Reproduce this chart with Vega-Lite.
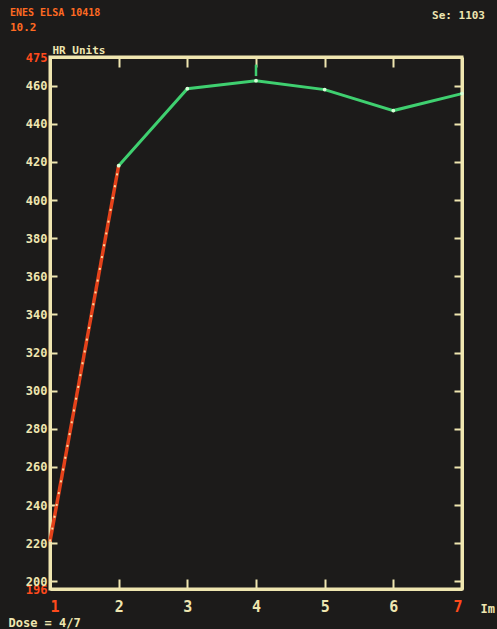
{
  "$schema": "https://vega.github.io/schema/vega-lite/v6.json",
  "width": 412,
  "height": 532,
  "autosize": {"type": "none"},
  "padding": {"left": 50, "top": 57, "right": 35, "bottom": 40},
  "background": "#1c1b1a",
  "title": {
    "text": "ENES ELSA 10418",
    "subtitle": "10.2",
    "anchor": "start",
    "frame": "group",
    "dx": -40,
    "dy": 48,
    "offset": 24,
    "font": "DejaVu Sans Mono",
    "fontSize": 10,
    "fontWeight": "bold",
    "color": "#ff6a22",
    "subtitleFont": "DejaVu Sans Mono",
    "subtitleFontSize": 11,
    "subtitleFontWeight": "bold",
    "subtitleColor": "#ff6a22",
    "subtitlePadding": 4
  },
  "config": {
    "view": {"stroke": "#efe6b0", "strokeWidth": 3},
    "axis": {
      "grid": false,
      "domainColor": "#efe6b0",
      "domainWidth": 3,
      "tickColor": "#efe6b0",
      "tickWidth": 2,
      "labelFont": "DejaVu Sans Mono",
      "labelFontWeight": "bold",
      "labelOverlap": false,
      "titleFont": "DejaVu Sans Mono",
      "titleFontWeight": "bold",
      "titleColor": "#efe6b0"
    }
  },
  "datasets": {
    "curve": [
      {"x": 1, "y": 221, "seg": "red"},
      {"x": 2, "y": 418, "seg": "red"},
      {"x": 2, "y": 418, "seg": "green"},
      {"x": 3, "y": 458.4, "seg": "green"},
      {"x": 4, "y": 462.6, "seg": "green"},
      {"x": 5, "y": 457.9, "seg": "green"},
      {"x": 6, "y": 446.9, "seg": "green"},
      {"x": 7, "y": 455.8, "seg": "green"}
    ],
    "marker": [{"x": 4, "y1": 465, "y2": 471}]
  },
  "resolve": {"axis": {"x": "independent", "y": "independent"}},
  "layer": [
    {
      "data": {"name": "curve"},
      "transform": [{"filter": "datum.seg == 'red'"}],
      "mark": {"type": "line", "color": "#e4421a", "strokeWidth": 3.5},
      "encoding": {
        "x": {
          "field": "x", "type": "quantitative",
          "scale": {"domain": [1, 7], "nice": false, "zero": false},
          "axis": {
            "orient": "bottom",
            "values": [1, 2, 3, 4, 5, 6, 7],
            "tickSize": -10,
            "labelPadding": 20,
            "labelFontSize": 15,
            "labelColor": {"condition": {"test": "datum.value == 1 || datum.value == 7", "value": "#ff4a1c"}, "value": "#efe6b0"},
            "title": "Dose = 4/7",
            "titleFontSize": 12,
            "titleAlign": "left",
            "titleAnchor": "start",
            "titleX": -42,
            "titleY": 33,
            "titleBaseline": "middle"
          }
        },
        "y": {
          "field": "y", "type": "quantitative",
          "scale": {"domain": [196, 475], "nice": false, "zero": false},
          "axis": {
            "orient": "left",
            "values": [196, 200, 220, 240, 260, 280, 300, 320, 340, 360, 380, 400, 420, 440, 460, 475],
            "tickSize": -7,
            "labelPadding": 10,
            "labelFontSize": 12,
            "labelColor": {"condition": {"test": "datum.value == 196 || datum.value == 475", "value": "#ff4a1c"}, "value": "#efe6b0"},
            "title": "HR Units",
            "titleAngle": 0,
            "titleFontSize": 11,
            "titleAlign": "left",
            "titleX": 2,
            "titleY": -2,
            "titleBaseline": "bottom"
          }
        }
      }
    },
    {
      "data": {"name": "curve"},
      "transform": [{"filter": "datum.seg == 'red'"}],
      "mark": {"type": "line", "color": "#ffd9a0", "strokeWidth": 2, "strokeDash": [2, 10]},
      "encoding": {
        "x": {"field": "x", "type": "quantitative", "axis": null},
        "y": {"field": "y", "type": "quantitative", "axis": null}
      }
    },
    {
      "data": {"name": "curve"},
      "transform": [{"filter": "datum.seg == 'green'"}],
      "mark": {"type": "line", "color": "#3fd070", "strokeWidth": 3},
      "encoding": {
        "x": {
          "field": "x", "type": "quantitative",
          "axis": {
            "orient": "top",
            "values": [2, 3, 4, 5, 6],
            "labels": false,
            "tickSize": -10,
            "title": "Se: 1103",
            "titleFontSize": 11,
            "titleColor": "#efe6b0",
            "titleAlign": "center",
            "titleX": 408,
            "titleY": -42,
            "titleBaseline": "middle"
          }
        },
        "y": {
          "field": "y", "type": "quantitative",
          "axis": {
            "orient": "right",
            "values": [200, 220, 240, 260, 280, 300, 320, 340, 360, 380, 400, 420, 440, 460],
            "labels": false,
            "tickSize": -8,
            "title": "Im",
            "titleAngle": 0,
            "titleFontSize": 12,
            "titleColor": "#efe6b0",
            "titleAlign": "left",
            "titleX": 18,
            "titleY": 551,
            "titleBaseline": "middle"
          }
        }
      }
    },
    {
      "data": {"name": "curve"},
      "transform": [{"filter": "datum.seg == 'green'"}],
      "mark": {"type": "point", "filled": true, "color": "#d8ffd8", "size": 14, "opacity": 1},
      "encoding": {
        "x": {"field": "x", "type": "quantitative", "axis": null},
        "y": {"field": "y", "type": "quantitative", "axis": null}
      }
    },
    {
      "data": {"name": "marker"},
      "mark": {"type": "rule", "color": "#3fd070", "strokeWidth": 2.5},
      "encoding": {
        "x": {"field": "x", "type": "quantitative", "axis": null},
        "y": {"field": "y1", "type": "quantitative", "axis": null},
        "y2": {"field": "y2"}
      }
    }
  ]
}
